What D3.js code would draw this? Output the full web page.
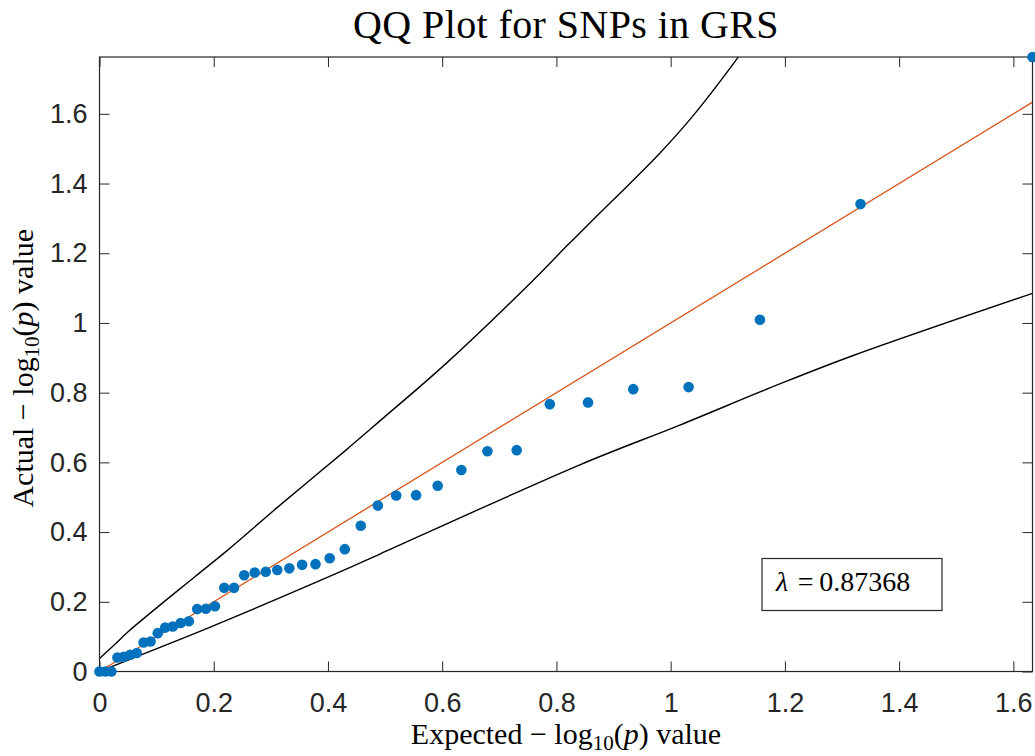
<!DOCTYPE html>
<html>
<head>
<meta charset="utf-8">
<script src="https://cdn.jsdelivr.net/npm/d3@7"></script>
<style>
  body { margin: 0; background: #fff; }
  svg { display: block; }
</style>
</head>
<body>
<div id="chart"></div>
<script>
// expected vs actual -log10(p), one entry per SNP (sorted)
const expected = [0, 0.0102, 0.0207, 0.0314, 0.0424, 0.0537, 0.0653, 0.0772, 0.0894, 0.1020,
  0.1150, 0.1283, 0.1421, 0.1564, 0.1711, 0.1863, 0.2021, 0.2185, 0.2355, 0.2533,
  0.2717, 0.2911, 0.3113, 0.3324, 0.3547, 0.3782, 0.4030, 0.4294, 0.4574, 0.4873,
  0.5195, 0.5543, 0.5921, 0.6335, 0.6792, 0.7304, 0.7884, 0.8553, 0.9345, 1.0314,
  1.1563, 1.3324, 1.6335];
const actual = [0, 0, 0, 0.040, 0.042, 0.048, 0.053, 0.083, 0.086, 0.110,
  0.126, 0.129, 0.139, 0.144, 0.179, 0.180, 0.187, 0.240, 0.240, 0.276,
  0.284, 0.286, 0.291, 0.296, 0.306, 0.308, 0.325, 0.351, 0.418, 0.476,
  0.505, 0.506, 0.533, 0.578, 0.632, 0.635, 0.767, 0.772, 0.810, 0.816,
  1.009, 1.341, 1.763];

// confidence band
const upperX = [0, 0.027, 0.05, 0.167, 0.225, 0.313, 0.43, 0.491, 0.607, 0.759, 0.817, 0.858, 0.981, 1.039, 1.118, 1.16];
const upperY = [0.037, 0.078, 0.114, 0.272, 0.349, 0.473, 0.633, 0.719, 0.884, 1.122, 1.219, 1.286, 1.487, 1.594, 1.762, 1.86];
const lowerX = [0, 0.05, 0.196, 0.438, 0.491, 0.841, 1.016, 1.191, 1.322, 1.6335];
const lowerY = [0, 0.033, 0.129, 0.298, 0.337, 0.593, 0.707, 0.825, 0.908, 1.085];

// reference line y = x
const refLine = [0, 1.6335];

const ticks = [0, 0.2, 0.4, 0.6, 0.8, 1, 1.2, 1.4, 1.6];
const lambdaText = "0.87368";

const width = 1035, height = 756;
const axisColor = "#262626";

const svg = d3.select("#chart")
  .append("svg")
  .attr("width", width)
  .attr("height", height);

const x = d3.scaleLinear()
  .domain([0, 1.6335])
  .range([99.5, 1032.5]);

const y = d3.scaleLinear()
  .domain([0, 1.763])
  .range([671.5, 57]);

svg.append("clipPath")
  .attr("id", "plot-clip")
  .append("rect")
  .attr("x", x(0))
  .attr("y", y(1.763))
  .attr("width", x(1.6335) - x(0))
  .attr("height", y(0) - y(1.763));

const line = d3.line()
  .x(d => x(d[0]))
  .y(d => y(d[1]))
  .curve(d3.curveCatmullRom.alpha(0.5));

const curves = svg.append("g").attr("clip-path", "url(#plot-clip)");

curves.append("path")
  .datum(upperX.map((v, i) => [v, upperY[i]]))
  .attr("d", line)
  .attr("fill", "none")
  .attr("stroke", "#000")
  .attr("stroke-width", 1.4);

curves.append("path")
  .datum(lowerX.map((v, i) => [v, lowerY[i]]))
  .attr("d", line)
  .attr("fill", "none")
  .attr("stroke", "#000")
  .attr("stroke-width", 1.4);

curves.append("path")
  .datum(refLine.map(v => [v, v]))
  .attr("d", d3.line().x(d => x(d[0])).y(d => y(d[1])))
  .attr("fill", "none")
  .attr("stroke", "#D95319")
  .attr("stroke-width", 1.3);

// axes
function styleAxis(g) {
  g.select(".domain").remove();
  g.selectAll(".tick line").attr("stroke", axisColor);
  g.selectAll(".tick text")
    .attr("fill", axisColor)
    .attr("font-family", "Liberation Sans, Arial, sans-serif")
    .attr("font-size", "27px");
}

svg.append("g")
  .attr("transform", `translate(0,${y(0)})`)
  .call(d3.axisBottom(x).tickValues(ticks).tickSize(-10).tickPadding(21).tickFormat(d3.format("~g")))
  .call(styleAxis);

svg.append("g")
  .attr("transform", `translate(${x(0)},0)`)
  .call(d3.axisLeft(y).tickValues(ticks).tickSize(-10).tickPadding(12).tickFormat(d3.format("~g")))
  .call(styleAxis);

svg.append("g")
  .attr("transform", `translate(0,${y(1.763)})`)
  .call(d3.axisTop(x).tickValues(ticks).tickSize(-10).tickFormat(""))
  .call(styleAxis);

svg.append("g")
  .attr("transform", `translate(${x(1.6335)},0)`)
  .call(d3.axisRight(y).tickValues(ticks).tickSize(-10).tickFormat(""))
  .call(styleAxis);

svg.append("rect")
  .attr("x", x(0))
  .attr("y", y(1.763))
  .attr("width", x(1.6335) - x(0))
  .attr("height", y(0) - y(1.763))
  .attr("fill", "none")
  .attr("stroke", axisColor)
  .attr("stroke-width", 1.2);

// points
svg.append("g")
  .selectAll("circle")
  .data(expected.map((v, i) => [v, actual[i]]))
  .join("circle")
  .attr("cx", d => x(d[0]))
  .attr("cy", d => y(d[1]))
  .attr("r", 5.3)
  .attr("fill", "#0072BD");

// lambda box
const serif = "Liberation Serif, Times New Roman, serif";

const lb = svg.append("g");
lb.append("rect")
  .attr("x", 762)
  .attr("y", 558.5)
  .attr("width", 180)
  .attr("height", 52)
  .attr("fill", "#fff")
  .attr("stroke", axisColor)
  .attr("stroke-width", 1.2);
const lt = lb.append("text")
  .attr("x", 776)
  .attr("y", 591)
  .attr("font-family", serif)
  .attr("font-size", "28px")
  .attr("fill", "#000");
lt.append("tspan").attr("font-style", "italic").text("λ");
lt.append("tspan").text("\u2009=\u2009" + lambdaText).attr("dx", 4);

// title and labels
svg.append("text")
  .attr("x", (x(0) + x(1.6335)) / 2)
  .attr("y", 38)
  .attr("text-anchor", "middle")
  .attr("font-family", serif)
  .attr("font-size", "40px")
  .attr("letter-spacing", "0.4px")
  .attr("fill", "#000")
  .text("QQ Plot for SNPs in GRS");

function mathLabel(t, word) {
  t.append("tspan").text(word + " \u2212 log");
  t.append("tspan").attr("baseline-shift", "-30%").attr("font-size", "70%").text("10");
  t.append("tspan").text("(");
  t.append("tspan").attr("font-style", "italic").text("p");
  t.append("tspan").text(") value");
}

const xl = svg.append("text")
  .attr("x", 566)
  .attr("y", 744)
  .attr("text-anchor", "middle")
  .attr("font-family", serif)
  .attr("font-size", "30px")
  .attr("fill", "#000");
mathLabel(xl, "Expected");

const yl = svg.append("text")
  .attr("transform", `translate(33,${(y(0) + y(1.763)) / 2 + 4}) rotate(-90)`)
  .attr("text-anchor", "middle")
  .attr("font-family", serif)
  .attr("font-size", "30px")
  .attr("fill", "#000");
mathLabel(yl, "Actual");
</script>
</body>
</html>
